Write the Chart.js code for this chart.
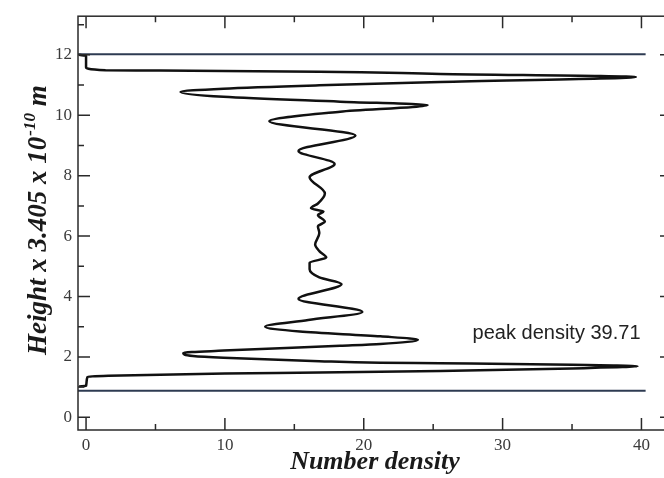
<!DOCTYPE html>
<html>
<head>
<meta charset="utf-8">
<title>Number density profile</title>
<script src="https://cdn.jsdelivr.net/npm/chart.js@4/dist/chart.umd.min.js"></script>
<style>
  html, body { margin: 0; padding: 0; background: #fff; overflow: hidden; }
  #wrap { width: 664px; height: 478px; overflow: hidden; }
</style>
</head>
<body>
<div id="wrap"><canvas id="chart" width="676" height="478"></canvas></div>
<script>
// density profile (bottom wall -> top wall)
const density = [-0.5, 0, 0.1, 1.6, 10, 16.8, 25.5, 35, 39.71, 35, 25.5, 21.2, 16.8, 9.9, 7.7, 7.0,
  9.9, 18.3, 21.2, 23.9, 21.2, 15.4, 12.9, 16.0, 19.9, 15.3, 18.4, 16.8, 16.1, 16.1, 17.3, 16.8,
  16.5, 16.8, 16.7, 17.2, 16.7, 17.1, 16.2, 16.7, 17.2, 16.1, 17.9, 15.3, 19.4, 13.2, 18.3, 24.6,
  18.3, 9.9, 6.8, 9.9, 16.8, 25.5, 39.6, 25.5, 16.8, 5.3, 1.4, 0, 0, -0.5];
const height = [1.02, 1.04, 1.34, 1.38, 1.45, 1.48, 1.53, 1.62, 1.69, 1.74, 1.79, 1.81, 1.86, 1.97, 2.03, 2.13,
  2.21, 2.37, 2.43, 2.57, 2.68, 2.84, 3.0, 3.22, 3.49, 3.92, 4.41, 4.63, 4.90, 5.12, 5.29, 5.50,
  5.72, 6.10, 6.32, 6.48, 6.70, 6.81, 6.92, 7.08, 7.41, 7.95, 8.39, 8.82, 9.33, 9.80, 10.12, 10.34,
  10.45, 10.61, 10.77, 10.88, 10.99, 11.10, 11.27, 11.37, 11.44, 11.48, 11.49, 11.59, 11.97, 12.0];

// walls
const wallX = [-0.58, 40.3];
const wallBottom = 0.88;
const wallTop = 12.02;

// axes
const xRange = [-0.58, 42.2];
const yRange = [-0.42, 13.28];
const xMajor = [0, 10, 20, 30, 40];
const xMinor = [5, 15, 25, 35];
const yMajor = [0, 2, 4, 6, 8, 10, 12];
const yMinor = [1, 3, 5, 7, 9, 11, 13];

const noteText = 'peak density 39.71';
const notePos = [27.84, 2.58];

const serif = '"Liberation Serif", "Times New Roman", serif';

const profile = density.map((d, i) => ({ x: d, y: height[i] }));
const lowWall = wallX.map(v => ({ x: v, y: wallBottom }));
const highWall = wallX.map(v => ({ x: v, y: wallTop }));

// frame, inward ticks, y title with superscript, note
const decor = {
  id: 'decor',
  afterDraw(chart) {
    const { ctx, chartArea: a, scales: { x, y } } = chart;
    ctx.save();
    ctx.strokeStyle = '#2a2a2a';
    ctx.lineWidth = 1.5;
    ctx.strokeRect(a.left, a.top, a.right - a.left, a.bottom - a.top);
    ctx.beginPath();
    function xt(v, len) {
      const px = x.getPixelForValue(v);
      ctx.moveTo(px, a.bottom); ctx.lineTo(px, a.bottom - len);
      ctx.moveTo(px, a.top); ctx.lineTo(px, a.top + len);
    }
    function yt(v, len) {
      const py = y.getPixelForValue(v);
      ctx.moveTo(a.left, py); ctx.lineTo(a.left + len, py);
      ctx.moveTo(a.right, py); ctx.lineTo(a.right - len, py);
    }
    xMajor.forEach(v => xt(v, 12));
    xMinor.forEach(v => xt(v, 6));
    yMajor.forEach(v => yt(v, 12));
    yMinor.forEach(v => yt(v, 6));
    ctx.stroke();

    // y title
    ctx.fillStyle = '#1a1a1a';
    ctx.translate(46, 355);
    ctx.rotate(-Math.PI / 2);
    ctx.textBaseline = 'alphabetic';
    ctx.textAlign = 'left';
    const big = 'italic bold 27px ' + serif;
    const small = 'italic bold 17px ' + serif;
    ctx.font = big;
    const p1 = 'Height x 3.405 x 10';
    ctx.fillText(p1, 0, 0);
    let w = ctx.measureText(p1).width;
    ctx.font = small;
    ctx.fillText('-10', w + 1, -11);
    w += ctx.measureText('-10').width + 1;
    ctx.font = big;
    ctx.fillText(' m', w, 0);
    ctx.restore();

    // note
    ctx.save();
    ctx.fillStyle = '#222';
    ctx.font = '20px "Liberation Sans", Arial, sans-serif';
    ctx.textBaseline = 'alphabetic';
    ctx.fillText(noteText, x.getPixelForValue(notePos[0]), y.getPixelForValue(notePos[1]));
    ctx.restore();
  }
};

new Chart(document.getElementById('chart'), {
  type: 'scatter',
  data: {
    datasets: [
      { data: profile, showLine: true, indexAxis: 'y', cubicInterpolationMode: 'monotone',
        borderColor: '#111', borderWidth: 2.5, pointRadius: 0 },
      { data: lowWall, showLine: true, borderColor: '#2e3b52', borderWidth: 2, pointRadius: 0 },
      { data: highWall, showLine: true, borderColor: '#2e3b52', borderWidth: 2, pointRadius: 0 }
    ]
  },
  options: {
    responsive: false,
    animation: false,
    layout: { padding: { top: 10, right: 4, left: 0, bottom: 0 } },
    plugins: { legend: { display: false }, tooltip: { enabled: false } },
    scales: {
      x: {
        type: 'linear',
        min: xRange[0], max: xRange[1],
        grid: { display: false, drawTicks: false },
        border: { display: false },
        afterBuildTicks: s => { s.ticks = xMajor.map(v => ({ value: v })); },
        afterFit: s => { s.height = 48; },
        ticks: { color: '#3a3a3a', padding: 5, maxRotation: 0, font: { family: serif, size: 17 } },
        title: { display: true, text: 'Number density', color: '#1a1a1a', padding: { top: 0, bottom: 0 },
          font: { family: serif, size: 26, style: 'italic', weight: 'bold' } }
      },
      y: {
        type: 'linear',
        min: yRange[0], max: yRange[1],
        grid: { display: false, drawTicks: false },
        border: { display: false },
        afterBuildTicks: s => { s.ticks = yMajor.map(v => ({ value: v })); },
        afterFit: s => { s.width = 78; },
        ticks: { color: '#3a3a3a', padding: 6, font: { family: serif, size: 17 } }
      }
    }
  },
  plugins: [decor]
});
</script>
</body>
</html>
